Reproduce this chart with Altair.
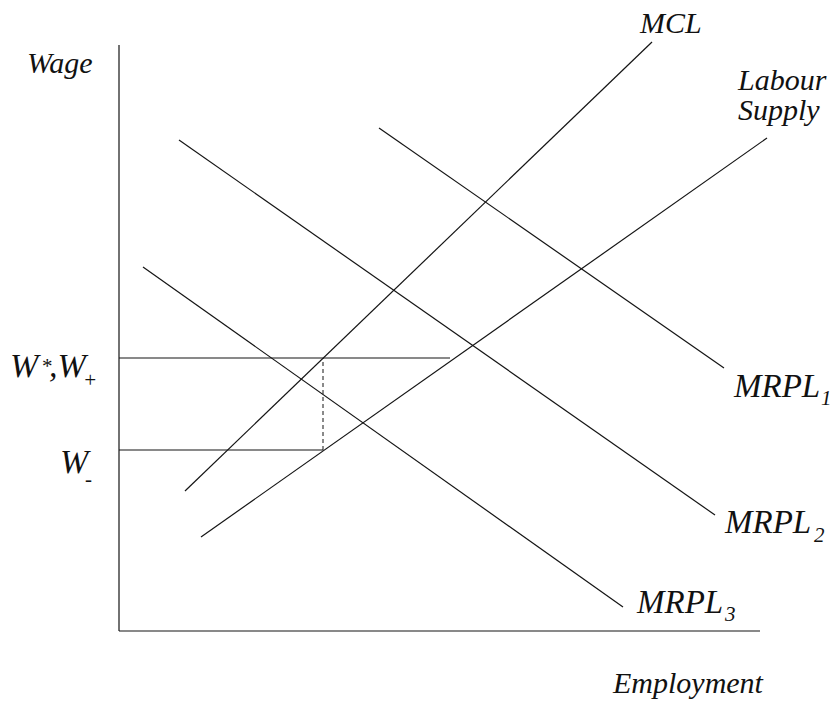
import altair as alt
import pandas as pd

# ---- data (diagram units: Employment on x, Wage on y) ----
curve_names = ["MCL", "Labour Supply", "MRPL1", "MRPL2", "MRPL3"]
curve_x0 = [6.6, 8.2, 26.0, 6.0, 2.4]
curve_y0 = [14.0, 9.4, 50.3, 49.1, 36.4]
curve_x1 = [53.3, 64.8, 60.5, 59.6, 50.4]
curve_y1 = [58.9, 49.3, 26.3, 11.6, 2.4]

axis_names = ["Wage axis", "Employment axis"]
axis_x0 = [0.0, 0.0]
axis_y0 = [0.0, 0.0]
axis_x1 = [0.0, 64.1]
axis_y1 = [58.6, 0.0]

wage_names = ["W*", "W-"]
wage_levels = [27.3, 18.1]
wage_ends = [33.1, 20.4]

dash_x = [20.4]
dash_y0 = [18.1]
dash_y1 = [27.3]

main_text = ["Wage", "W", ",W", "W", "MCL", "Labour", "Supply",
             "MRPL", "MRPL", "MRPL", "Employment"]
main_x = [-9.2, -10.9, -7.0, -5.9, 52.1, 61.9, 61.9, 61.5, 60.6, 51.8, 49.4]
main_y = [55.8, 25.4, 25.4, 15.8, 59.8, 54.1, 51.1, 23.4, 9.8, 1.8, -6.2]

small_text = ["*", "+", "-", "1", "2", "3"]
small_x = [-7.8, -3.6, -3.4, 70.2, 69.5, 60.6]
small_y = [25.8, 24.4, 14.5, 22.6, 8.9, 1.0]

X_DOMAIN = [-11.1, 71.3]
Y_DOMAIN = [-7.1, 62.3]

# ---- styles ----
FONT = "Liberation Serif"
MAIN_SIZE = {"W": 34, ",W": 34, "MRPL": 33}
DEFAULT_SIZE = 30
SUB_SIZE = 21

# ---- tables ----
segs = pd.DataFrame({
    "name": curve_names + axis_names + wage_names,
    "x": curve_x0 + axis_x0 + [0.0, 0.0],
    "y": curve_y0 + axis_y0 + wage_levels,
    "x2": curve_x1 + axis_x1 + wage_ends,
    "y2": curve_y1 + axis_y1 + wage_levels,
})
dash = pd.DataFrame({"x": dash_x, "y": dash_y0, "x2": dash_x, "y2": dash_y1})
mains = pd.DataFrame({"t": main_text, "x": main_x, "y": main_y})
mains["fs"] = [MAIN_SIZE.get(t, DEFAULT_SIZE) for t in main_text]
smalls = pd.DataFrame({"t": small_text, "x": small_x, "y": small_y})

xs = alt.Scale(domain=X_DOMAIN, nice=False, zero=False)
ys = alt.Scale(domain=Y_DOMAIN, nice=False, zero=False)

def X(f="x"):
    return alt.X(f"{f}:Q", scale=xs, axis=None)

def Y(f="y"):
    return alt.Y(f"{f}:Q", scale=ys, axis=None)

lines = alt.Chart(segs).mark_rule(color="#141414", strokeWidth=1.2).encode(
    x=X(), y=Y(), x2="x2:Q", y2="y2:Q"
)
dashed = alt.Chart(dash).mark_rule(color="#141414", strokeWidth=1, strokeDash=[4, 3]).encode(
    x=X(), y=Y(), x2="x2:Q", y2="y2:Q"
)
labels = alt.Chart(mains).mark_text(
    font=FONT, fontStyle="italic", align="left",
    baseline="alphabetic", color="#111"
).encode(x=X(), y=Y(), text="t:N", size=alt.Size("fs:Q", scale=None, legend=None))
subs = alt.Chart(smalls).mark_text(
    font=FONT, fontStyle="italic", fontSize=SUB_SIZE, align="left",
    baseline="alphabetic", color="#111"
).encode(x=X(), y=Y(), text="t:N")

chart = alt.layer(lines, dashed, labels, subs).properties(
    width=824, height=694, padding=0,
    autosize=alt.AutoSizeParams(type="none")
).configure_view(stroke=None)

chart.save("out.html", embed_options={"renderer": "svg", "actions": False})
